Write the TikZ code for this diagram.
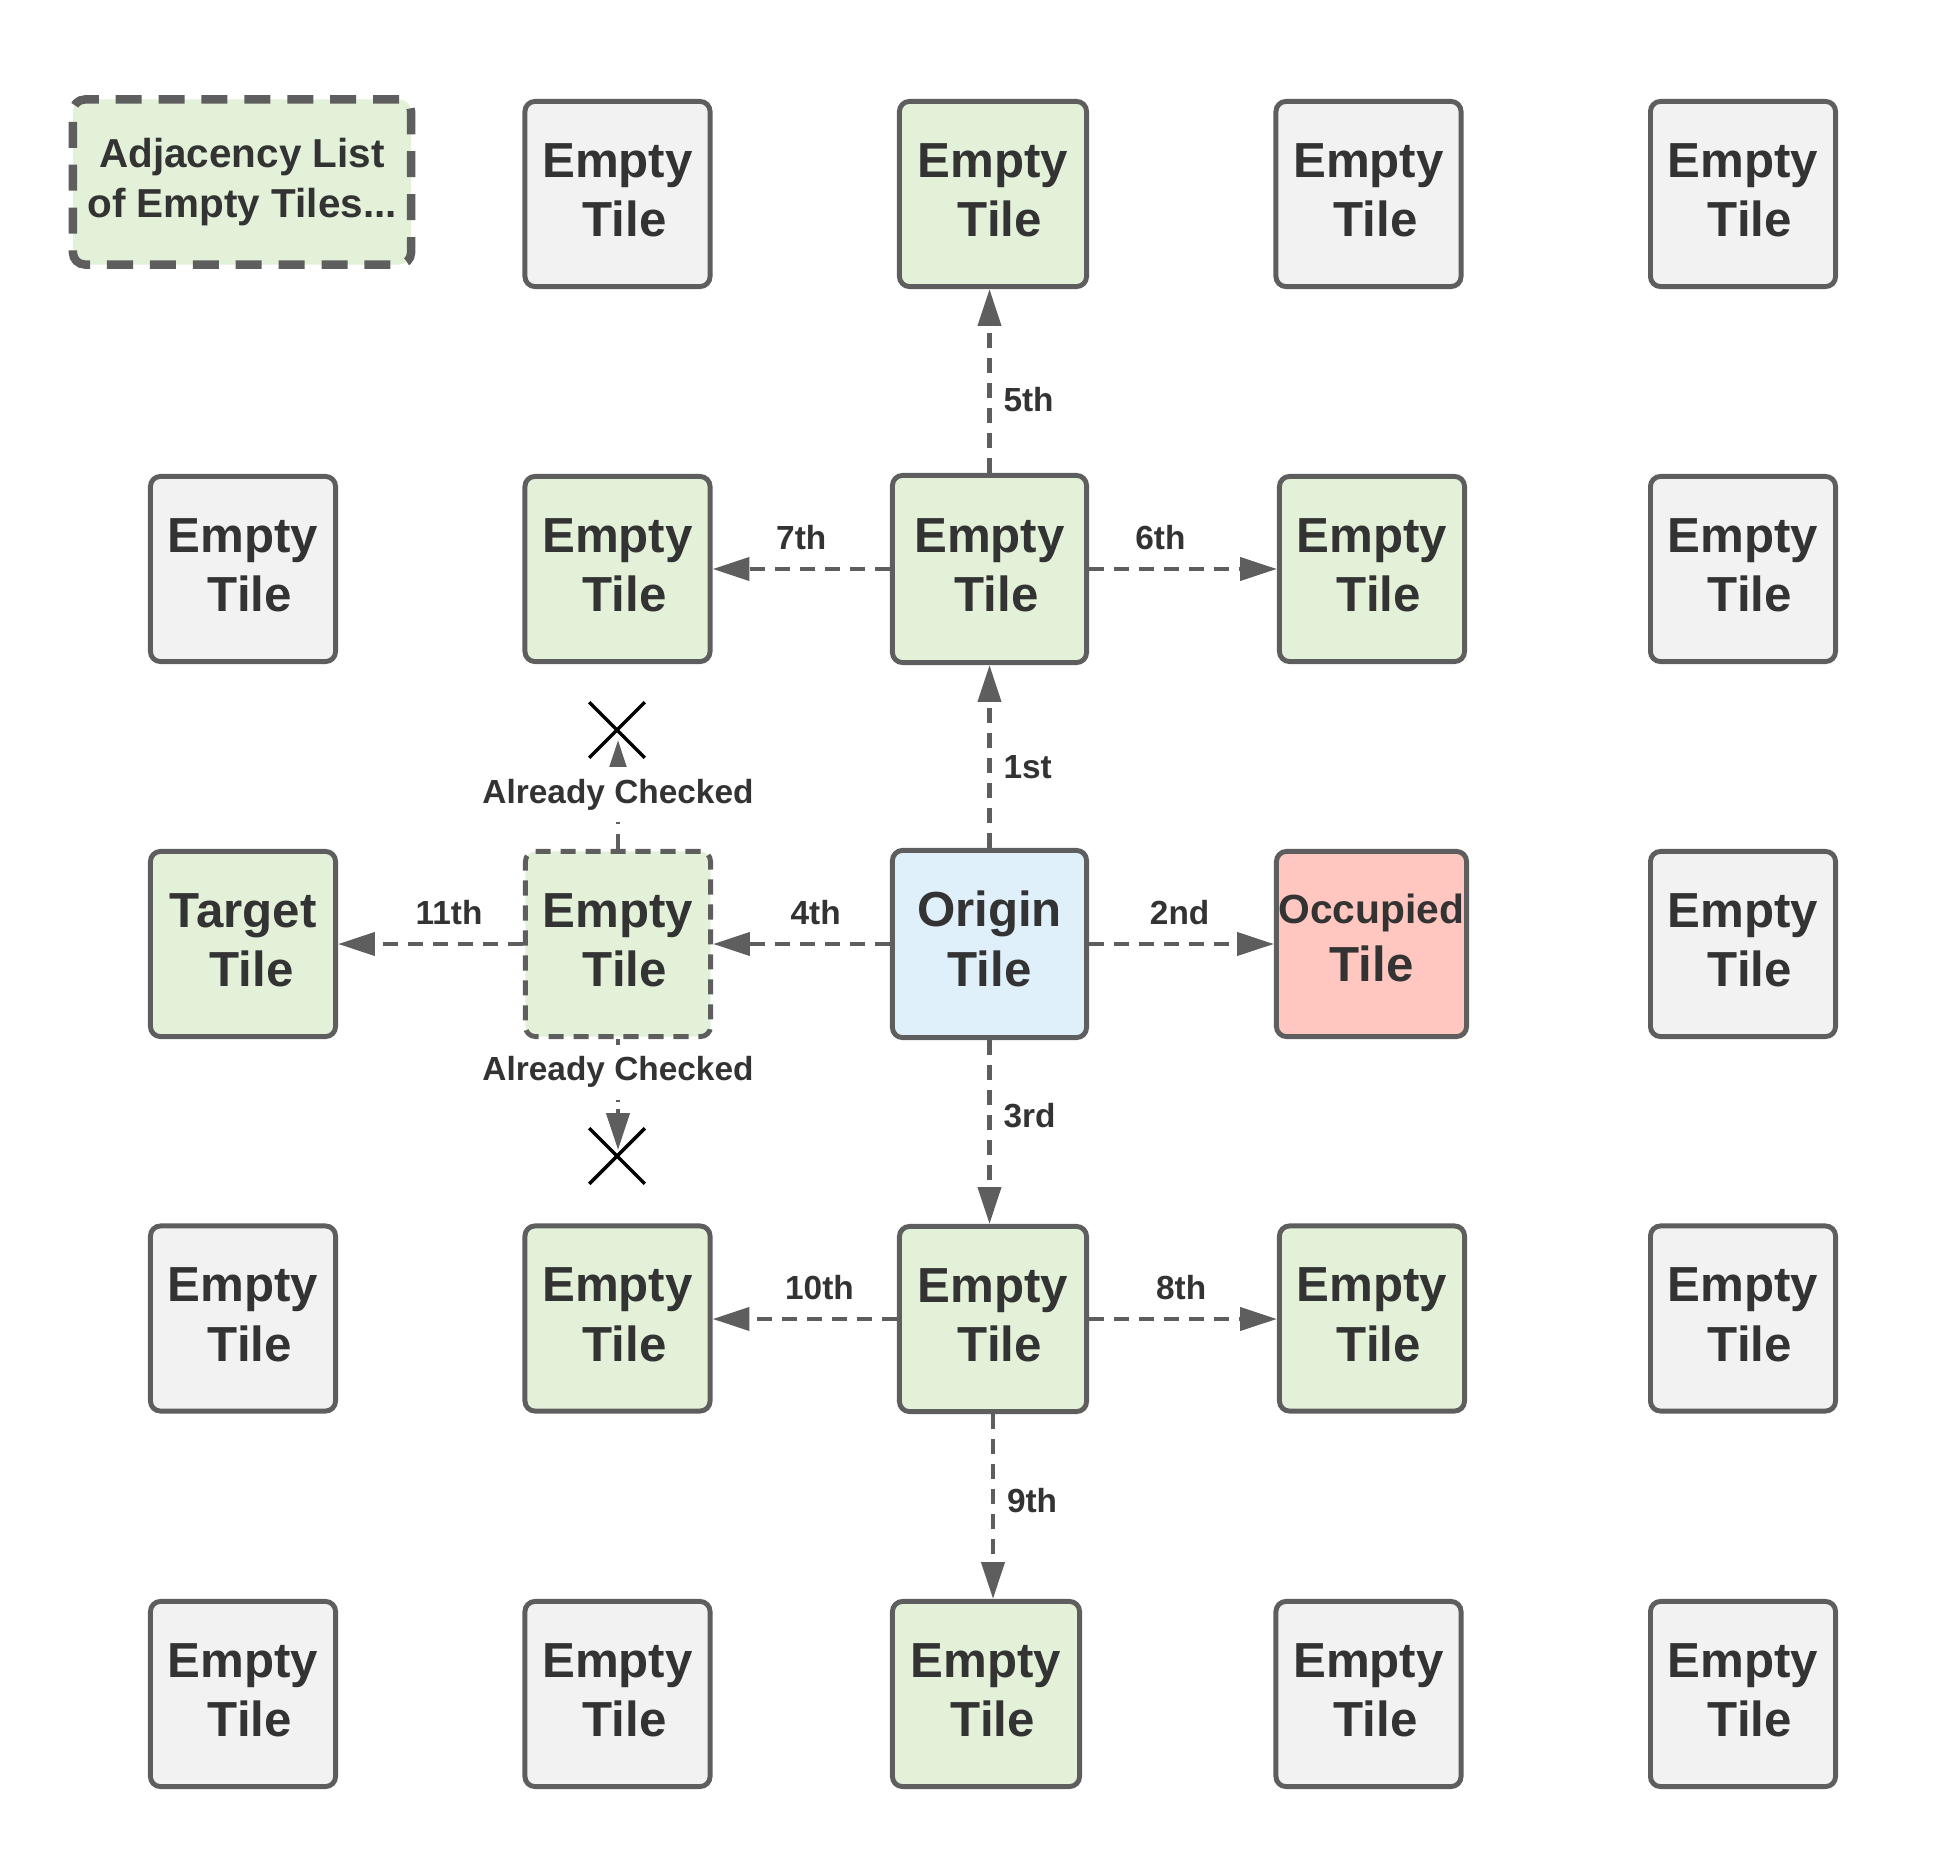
\documentclass[tikz,border=0pt]{standalone}
\usepackage{fontspec}
\setmainfont{Liberation Sans}
\usetikzlibrary{arrows.meta,shapes.misc}
\definecolor{bordc}{HTML}{5E5E5E}
\definecolor{greyf}{HTML}{F2F2F2}
\definecolor{greenf}{HTML}{E2F1D8}
\definecolor{bluef}{HTML}{DFF0FB}
\definecolor{redf}{HTML}{FFC7C0}
\definecolor{txtc}{HTML}{333333}
\newcommand{\et}{Empty\\\hspace*{.28em}Tile}
\begin{document}
\begin{tikzpicture}[x=0.01cm,y=-0.01cm,
  tile/.style={draw=bordc, line width=1.4pt, rounded corners=0.1cm,
    minimum width=1.85cm, minimum height=1.85cm, inner sep=0pt, text depth=0.08cm,
    align=center, text=txtc, font=\bfseries\fontsize{14}{17}\selectfont, fill=greyf},
  gtile/.style={tile, fill=greenf},
  conn/.style={draw=bordc, line width=1.3pt, dash pattern=on 4.3pt off 2.8pt,
    -{Triangle[length=10.5pt,width=6.5pt]}},
  lab/.style={font=\bfseries\fontsize{9.5}{11}\selectfont, text=txtc},
  xmark/.style={draw=black, cross out, line width=1pt, minimum size=0.52cm, inner sep=0pt}
]
\useasboundingbox (0,0) rectangle (1939,1864);
% legend
\node[draw=bordc, line width=2.4pt, dash pattern=on 7.4pt off 4.8pt, rounded corners=0.12cm,
  fill=greenf, minimum width=3.38cm, minimum height=1.65cm, inner sep=0pt, align=center, text=txtc,
  font=\bfseries\fontsize{11.5}{14}\selectfont] (legend) at (242,182) {Adjacency List\\of Empty Tiles...};
% row 0
\node[tile] (r0c1) at (617.5,194) {\et};
\node[gtile, minimum width=1.87cm] (r0c2) at (993,194) {\et};
\node[tile] (r0c3) at (1368.5,194) {\et};
\node[tile] (r0c4) at (1743,194) {\et};
% row 1
\node[tile] (r1c0) at (243,569) {\et};
\node[gtile] (r1c1) at (617.5,569) {\et};
\node[gtile, minimum width=1.94cm, minimum height=1.87cm] (r1c2) at (989.5,569) {\et};
\node[gtile] (r1c3) at (1372,569) {\et};
\node[tile] (r1c4) at (1743,569) {\et};
% row 2
\node[gtile] (tgt) at (243,944) {Target\\\hspace*{.35em}Tile};
\node[gtile, dash pattern=on 4.3pt off 2.8pt] (dt) at (618,944) {\et};
\node[tile, fill=bluef, minimum width=1.94cm, minimum height=1.87cm, text depth=0.10cm] (org) at (989.5,944) {Origin\\Tile};
\node[tile, fill=redf, minimum width=1.90cm, text depth=0.12cm] (occ) at (1371.5,944) {{\fontsize{11.6}{14}\selectfont Occupied}\\[-0.6pt]Tile};
\node[tile] (r2c4) at (1743,944) {\et};
% row 3
\node[tile] (r3c0) at (243,1318.5) {\et};
\node[gtile] (r3c1) at (617.5,1318.5) {\et};
\node[gtile, minimum width=1.87cm] (r3c2) at (993,1319) {\et};
\node[gtile] (r3c3) at (1372,1318.5) {\et};
\node[tile] (r3c4) at (1743,1318.5) {\et};
% row 4
\node[tile] (r4c0) at (243,1694) {\et};
\node[tile] (r4c1) at (617.5,1694) {\et};
\node[gtile, minimum width=1.87cm] (r4c2) at (986,1694) {\et};
\node[tile] (r4c3) at (1368.5,1694) {\et};
\node[tile] (r4c4) at (1743,1694) {\et};
% X marks
\node[xmark] (xup) at (617,730) {};
\node[xmark] (xdn) at (617,1156) {};
\coordinate (tipU) at (617,740);
\coordinate (tipD) at (617,1150);
% connectors
\draw[conn] (org.north) -- node[lab, right=0cm, pos=0.44]{1st} (org.north |- r1c2.south);
\draw[conn] (org.east) -- node[lab, above=0.05cm, pos=0.49]{2nd} (org.east -| occ.west);
\draw[conn] (org.south) -- node[lab, right=0cm, pos=0.41]{3rd} (org.south |- r3c2.north);
\draw[conn] (org.west) -- node[lab, above=0.05cm, pos=0.42]{4th} (org.west -| dt.east);
\draw[conn] (r1c2.north) -- node[lab, right=0cm, pos=0.40]{5th} (r1c2.north |- r0c2.south);
\draw[conn] (r1c2.east) -- node[lab, above=0.05cm, pos=0.38]{6th} (r1c2.east -| r1c3.west);
\draw[conn] (r1c2.west) -- node[lab, above=0.05cm, pos=0.5]{7th} (r1c2.west -| r1c1.east);
\draw[conn] (r3c2.east) -- node[lab, above=0.05cm, pos=0.49]{8th} (r3c2.east -| r3c3.west);
\draw[conn] (r3c2.south) -- node[lab, right=0cm, pos=0.47]{9th} (r3c2.south |- r4c2.north);
\draw[conn] (r3c2.west) -- node[lab, above=0.05cm, pos=0.42]{10th} (r3c2.west -| r3c1.east);
\draw[conn] (dt.west) -- node[lab, above=0.05cm, pos=0.40]{11th} (dt.west -| tgt.east);
\draw[conn] (dt.north) -- node[lab, fill=white, pos=0.5]{Already Checked} (dt.north |- tipU);
\draw[conn, dash pattern=on 2pt off 2pt] (dt.south) -- node[lab, fill=white, pos=0.30]{Already Checked} (dt.south |- tipD);
\end{tikzpicture}
\end{document}
